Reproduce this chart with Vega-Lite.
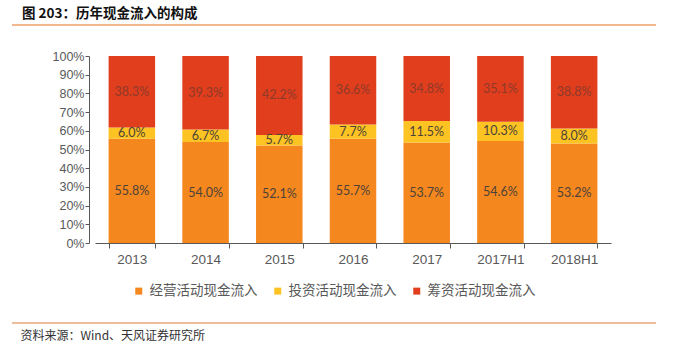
{
  "$schema": "https://vega.github.io/schema/vega-lite/v6.json",
  "width": 644,
  "height": 298,
  "autosize": {"type": "none"},
  "padding": {"left": 12, "top": 25, "right": 44, "bottom": 27},
  "background": "white",
  "config": {"view": {"stroke": null}, "font": "Noto Sans CJK SC"},
  "title": {
    "text": "图 203：历年现金流入的构成",
    "anchor": "start",
    "frame": "group",
    "font": "Noto Sans CJK SC",
    "fontSize": 13.5,
    "fontWeight": "bold",
    "color": "#111111",
    "offset": 4,
    "dx": 10
  },
  "resolve": {"axis": {"y": "independent"}},
  "data": {
    "values": [
      {"year": "2013", "type": "经营活动现金流入", "k": 1, "v": 0.558},
      {"year": "2013", "type": "投资活动现金流入", "k": 2, "v": 0.060},
      {"year": "2013", "type": "筹资活动现金流入", "k": 3, "v": 0.383},
      {"year": "2014", "type": "经营活动现金流入", "k": 1, "v": 0.540},
      {"year": "2014", "type": "投资活动现金流入", "k": 2, "v": 0.067},
      {"year": "2014", "type": "筹资活动现金流入", "k": 3, "v": 0.393},
      {"year": "2015", "type": "经营活动现金流入", "k": 1, "v": 0.521},
      {"year": "2015", "type": "投资活动现金流入", "k": 2, "v": 0.057},
      {"year": "2015", "type": "筹资活动现金流入", "k": 3, "v": 0.422},
      {"year": "2016", "type": "经营活动现金流入", "k": 1, "v": 0.557},
      {"year": "2016", "type": "投资活动现金流入", "k": 2, "v": 0.077},
      {"year": "2016", "type": "筹资活动现金流入", "k": 3, "v": 0.366},
      {"year": "2017", "type": "经营活动现金流入", "k": 1, "v": 0.537},
      {"year": "2017", "type": "投资活动现金流入", "k": 2, "v": 0.115},
      {"year": "2017", "type": "筹资活动现金流入", "k": 3, "v": 0.348},
      {"year": "2017H1", "type": "经营活动现金流入", "k": 1, "v": 0.546},
      {"year": "2017H1", "type": "投资活动现金流入", "k": 2, "v": 0.103},
      {"year": "2017H1", "type": "筹资活动现金流入", "k": 3, "v": 0.351},
      {"year": "2018H1", "type": "经营活动现金流入", "k": 1, "v": 0.532},
      {"year": "2018H1", "type": "投资活动现金流入", "k": 2, "v": 0.080},
      {"year": "2018H1", "type": "筹资活动现金流入", "k": 3, "v": 0.388}
    ]
  },
  "layer": [
    {
      "mark": {"type": "bar"},
      "encoding": {
        "x": {
          "field": "year",
          "type": "nominal",
          "sort": null,
          "scale": {"range": [83, 599], "paddingInner": 0.369, "paddingOuter": 0.1845},
          "axis": {
            "title": "资料来源：Wind、天风证券研究所",
            "titleX": 8,
            "titleY": 92,
            "titleAlign": "left",
            "titleAnchor": "start",
            "titleBaseline": "middle",
            "titleFont": "Noto Sans CJK SC",
            "titleFontSize": 12,
            "titleFontWeight": "normal",
            "titleColor": "#333333",
            "offset": -80,
            "tickBand": "extent",
            "tickSize": 5,
            "tickColor": "#595959",
            "domainColor": "#595959",
            "labelFont": "Liberation Sans",
            "labelFontSize": 13.5,
            "labelColor": "#595959",
            "labelPadding": 4,
            "labelAngle": 0
          }
        },
        "y": {
          "field": "v",
          "type": "quantitative",
          "stack": "normalize",
          "scale": {"domain": [0, 1], "range": [218, 31], "nice": false, "zero": false},
          "axis": {
            "title": null,
            "offset": -77,
            "values": [0, 0.1, 0.2, 0.3, 0.4, 0.5, 0.6, 0.7, 0.8, 0.9, 1],
            "format": ".0%",
            "labelOverlap": false,
            "grid": false,
            "domainColor": "#595959",
            "tickColor": "#595959",
            "tickSize": 4,
            "labelPadding": 1,
            "labelFont": "Liberation Sans",
            "labelFontSize": 12.5,
            "labelColor": "#595959"
          }
        },
        "order": {"field": "k", "type": "quantitative"},
        "color": {
          "field": "type",
          "type": "nominal",
          "scale": {
            "domain": ["经营活动现金流入", "投资活动现金流入", "筹资活动现金流入"],
            "range": ["#F5871F", "#FDC322", "#E03E1D"]
          },
          "legend": {
            "orient": "none",
            "legendX": 120,
            "legendY": 259,
            "direction": "horizontal",
            "title": null,
            "symbolType": "square",
            "symbolSize": 49,
            "symbolStrokeWidth": 0,
            "labelFont": "Noto Sans CJK SC",
            "labelFontSize": 13.5,
            "labelColor": "#595959",
            "columnPadding": 13,
            "labelOffset": 4
          }
        }
      }
    },
    {
      "mark": {"type": "text", "font": "Lato", "fontSize": 12.5},
      "encoding": {
        "x": {"field": "year", "type": "nominal", "sort": null},
        "y": {"field": "v", "type": "quantitative", "stack": "normalize", "bandPosition": 0.5, "axis": null},
        "order": {"field": "k", "type": "quantitative"},
        "detail": {"field": "type"},
        "text": {"field": "v", "type": "quantitative", "format": ".1%"},
        "color": {"condition": {"test": "datum.k === 3", "value": "#8E3A2A"}, "value": "#4D4238"}
      }
    },
    {
      "data": {"values": [{"p": "top"}]},
      "mark": {"type": "rule", "color": "#EFA06A", "strokeWidth": 1.5},
      "encoding": {"y": {"datum": 1.1658, "type": "quantitative", "axis": null}}
    },
    {
      "data": {"values": [{"p": "bottom"}]},
      "mark": {"type": "rule", "color": "#E8A878", "strokeWidth": 1.5},
      "encoding": {"y": {"datum": -0.4278, "type": "quantitative", "axis": null}}
    }
  ]
}
